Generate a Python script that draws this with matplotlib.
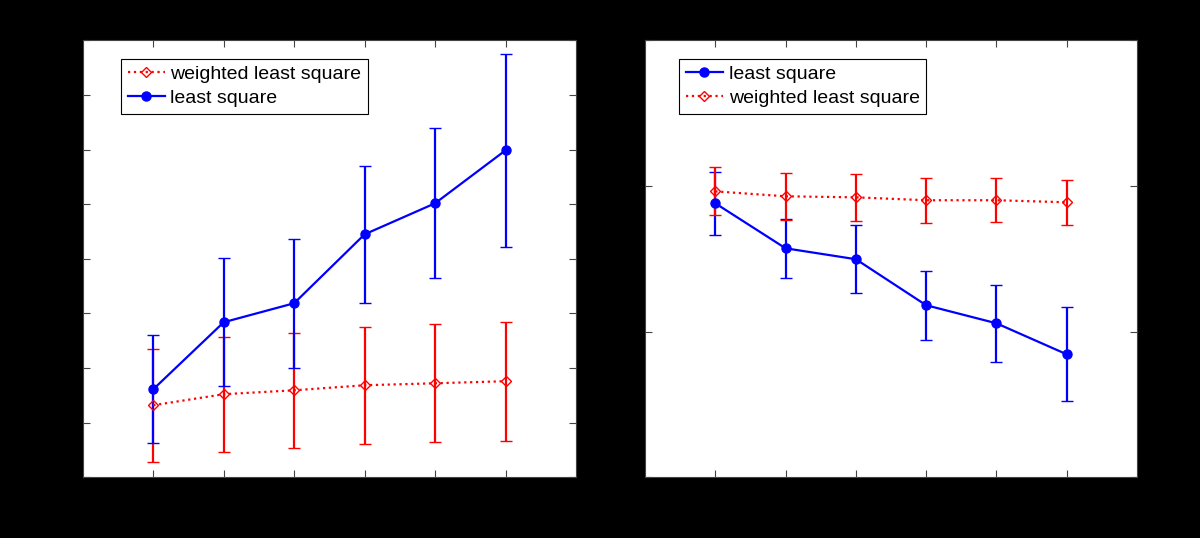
import numpy as np
import matplotlib
matplotlib.use('Agg')
import matplotlib.pyplot as plt
from matplotlib.lines import Line2D

plt.rcParams['font.family'] = ['Liberation Sans', 'DejaVu Sans']

# x positions / tick labels (shared by both panels)
x_pos = [1, 2, 3, 4, 5, 6]
x_labels = ['1', '3', '5', '7', '9', '11']

# left panel
left_ls = [0.0805, 0.1419, 0.1593, 0.2224, 0.2508, 0.2993]
left_ls_err = [0.0494, 0.0586, 0.0590, 0.0627, 0.0686, 0.0883]
left_wls = [0.0659, 0.0760, 0.0796, 0.0842, 0.0860, 0.0879]
left_wls_err = [0.0517, 0.0526, 0.0526, 0.0535, 0.0540, 0.0545]

# right panel (x 1e-3)
right_ls = [1.881, 1.572, 1.497, 1.181, 1.057, 0.844]
right_ls_err = [0.216, 0.203, 0.233, 0.237, 0.264, 0.323]
right_wls = [1.963, 1.929, 1.922, 1.902, 1.902, 1.888]
right_wls_err = [0.165, 0.161, 0.161, 0.154, 0.151, 0.154]

TXT = 'black'
LS_STYLE = dict(color='blue', ls='-', marker='o', ms=6.5, mfc='blue', mec='blue')
WLS_STYLE = dict(color='red', ls=':', marker='D', ms=5, mfc='none', mec='red')


def draw_series(ax, y, err, st):
    ax.errorbar(x_pos, y, yerr=err, lw=1.6, mew=1, elinewidth=1.6,
                capsize=4, capthick=1.6, **st)


def proxy(st, label):
    return Line2D([], [], lw=1.6, mew=1, label=label, **st)


def style_axes(ax, ylim, yticks):
    ax.set_facecolor('white')
    ax.set_xlim(0, 7)
    ax.set_ylim(*ylim)
    ax.set_xticks(x_pos)
    ax.set_xticklabels(x_labels)
    ax.set_yticks(yticks)
    ax.tick_params(direction='in', top=True, right=True, length=5,
                   labelsize=11, colors='#444444', labelcolor=TXT)
    for s in ax.spines.values():
        s.set_color('#444444')
        s.set_linewidth(0.8)


def add_legend(ax, handles, x0):
    leg = ax.legend(handles=handles, loc='upper left', bbox_to_anchor=(x0, 0.958),
                    fontsize=14, fancybox=False, edgecolor='black', framealpha=1,
                    handlelength=1.9, handletextpad=0.3, borderpad=0.35,
                    labelspacing=0.32, borderaxespad=0)
    leg.get_frame().set_linewidth(0.8)


fig = plt.figure(figsize=(12, 5.38), dpi=100, facecolor='black')

ax1 = fig.add_axes([0.069, 0.113, 0.411, 0.812])
draw_series(ax1, left_wls, left_wls_err, WLS_STYLE)
draw_series(ax1, left_ls, left_ls_err, LS_STYLE)
style_axes(ax1, (0, 0.4), np.arange(0, 0.41, 0.05))
ax1.set_title('Estimation of parameter a', color=TXT, fontsize=12, pad=10)
ax1.set_xlabel('SNR (dB)', color=TXT, fontsize=12)
ax1.set_ylabel('RMSE', color=TXT, fontsize=12)
add_legend(ax1, [proxy(WLS_STYLE, 'weighted least square'),
                 proxy(LS_STYLE, 'least square')], 0.077)

ax2 = fig.add_axes([0.5375, 0.113, 0.41, 0.812])
draw_series(ax2, right_ls, right_ls_err, LS_STYLE)
draw_series(ax2, right_wls, right_wls_err, WLS_STYLE)
style_axes(ax2, (0, 3), [0, 1, 2, 3])
ax2.set_title('Estimation of parameter b', color=TXT, fontsize=12, pad=10)
ax2.set_xlabel('SNR (dB)', color=TXT, fontsize=12)
ax2.set_ylabel('RMSE', color=TXT, fontsize=12)
ax2.text(-0.02, 1.02, r'$\times10^{-3}$', transform=ax2.transAxes,
         color=TXT, fontsize=11, ha='left', va='bottom')
add_legend(ax2, [proxy(LS_STYLE, 'least square'),
                 proxy(WLS_STYLE, 'weighted least square')], 0.069)

fig.savefig('out.png', dpi=100, facecolor='black')
